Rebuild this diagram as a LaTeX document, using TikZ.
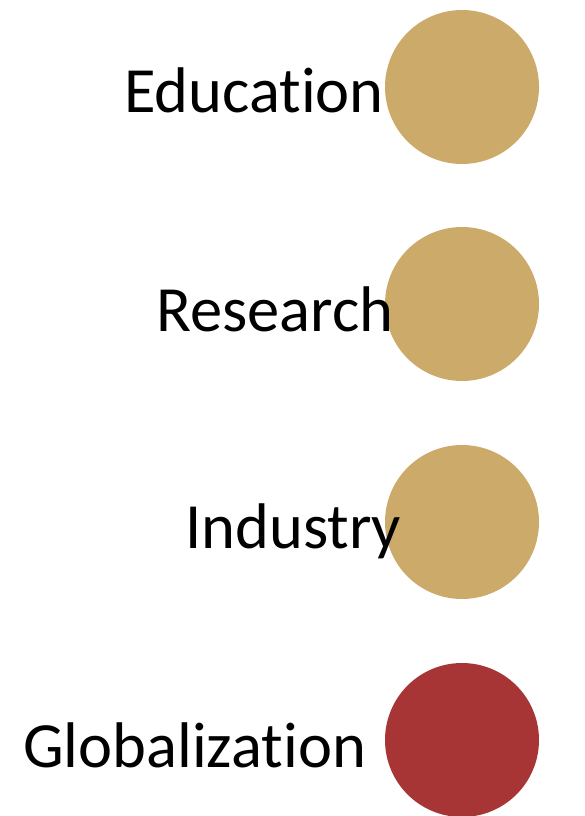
\documentclass[tikz,border=0pt]{standalone}
\usepackage{fontspec}
\setmainfont{Carlito}[Ligatures=NoCommon]
\usepackage{xcolor}
\usepackage{tikz}

\definecolor{gold}{RGB}{203,170,106}
\definecolor{brick}{RGB}{168,53,53}

\begin{document}
\begin{tikzpicture}[x=1pt,y=-1pt,
  dot/.style={circle,inner sep=0pt,minimum size=154pt},
  word/.style={inner sep=0pt,anchor=base west,font=\fontsize{64.5}{70}\selectfont}]
\useasboundingbox (0,0) rectangle (585,816);
\node[dot,fill=gold] (edudot) at (462,87) {};
\node[dot,fill=gold] (resdot) at (462,304) {};
\node[dot,fill=gold] (inddot) at (462,522) {};
\node[dot,fill=brick] (globdot) at (462,740) {};
\node[word] (edu) at (124,112) {Education};
\node[word] (res) at (156,331) {Research};
\node[word] (ind) at (185,548) {Industry};
\node[word] (glob) at (23,767) {Globalization};
\end{tikzpicture}
\end{document}
